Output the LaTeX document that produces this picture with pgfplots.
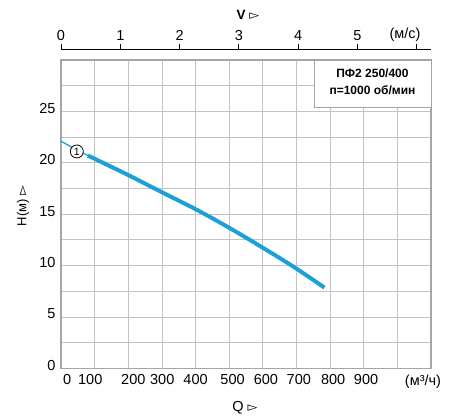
\documentclass[border=0pt]{standalone}
\usepackage{fontspec}
\setmainfont{Liberation Sans}
\newfontfamily\symf{DejaVu Sans}
\usepackage{pgfplots}
\pgfplotsset{compat=1.18}
\definecolor{curve}{RGB}{28,160,215}
\definecolor{gridc}{RGB}{195,195,195}
\definecolor{framec}{RGB}{165,165,165}

\begin{document}
\begin{tikzpicture}[x=1pt,y=1pt]
\path[use as bounding box] (0,0) rectangle (450,418);

% main Q-H axis
\begin{axis}[
  at={(61pt,49.7pt)}, anchor=south west, scale only axis,
  width=370pt, height=308.3pt,
  xmin=0, xmax=1100, ymin=0, ymax=30,
  /pgf/number format/assume math mode=true,
  ticklabel style={font=\fontsize{14.5}{16}\selectfont},
  axis line style={draw=framec, line width=1.1pt},
  major tick length=0pt, minor tick length=0pt,
  xtick={18,87,215,301,400,510,609,707,809,907},
  xticklabels={0,100,200,300,400,500,600,700,800,900},
  xticklabel style={yshift=-3pt},
  minor xtick={100,200,...,1000},
  xminorgrids,
  ytick={0,5,...,25},
  yticklabel style={yshift=3pt, xshift=-2pt},
  minor ytick={2.5,7.5,...,27.5},
  ymajorgrids, yminorgrids,
  grid style={draw=gridc, line width=0.8pt},
  minor grid style={draw=gridc, line width=0.8pt},
  clip=false,
]
% curve
\addplot[curve, line width=1.3pt] coordinates {(0,22.1) (47,21.25) (96,20.45)};
\addplot[curve, line width=4pt, smooth] coordinates {
  (80,20.7) (96,20.45) (200,18.8) (296,17.2) (405,15.4)
  (504,13.6) (594,11.85) (693,9.85) (783,7.85)};
\node[circle, draw=black, line width=0.8pt, fill=white, inner sep=0pt,
  minimum size=13pt, font=\fontsize{10.5}{10.5}\selectfont] at (axis cs:47,21.1) {1};
% model box
\draw[draw=framec, line width=0.8pt, fill=white] (axis cs:752,25.4) rectangle (axis cs:1100,30);
\node[font=\bfseries\fontsize{12}{14}\selectfont] at (axis cs:926,28.7) {ПФ2 250/400};
\node[font=\bfseries\fontsize{12}{14}\selectfont] at (axis cs:926,27.1) {п=1000 об/мин};
\end{axis}

% top v axis
\begin{axis}[
  at={(61pt,49.7pt)}, anchor=south west, scale only axis,
  width=370pt, height=319.3pt,
  xmin=0, xmax=6.24, ymin=0, ymax=1,
  axis x line*=top, axis y line=none,
  x axis line style={-, draw=black, line width=0.9pt},
  /pgf/number format/assume math mode=true,
  ticklabel style={font=\fontsize{14.5}{16}\selectfont},
  xtick={0,1,...,6}, xticklabels={0,1,2,3,4,5,{}},
  major tick length=5pt,
  tick style={draw=black, line width=0.9pt},
  xtick align=outside,
]
\end{axis}

\node[font=\fontsize{14.5}{16}\selectfont] at (405,383) {(м/с)};
\node[font=\fontsize{14.5}{16}\selectfont] at (423,36) {(м³/ч)};
\node[font=\bfseries\fontsize{13.5}{15}\selectfont] at (248,403) {V {\symf\mdseries\fontsize{13}{14}\selectfont ▻}};
\node[font=\fontsize{14.5}{16}\selectfont] at (245,10) {Q {\symf\fontsize{13}{14}\selectfont ▻}};
\node[rotate=90, font=\fontsize{13}{15}\selectfont] at (23,212) {H(м) {\symf\fontsize{13}{14}\selectfont ▻}};
\end{tikzpicture}
\end{document}
